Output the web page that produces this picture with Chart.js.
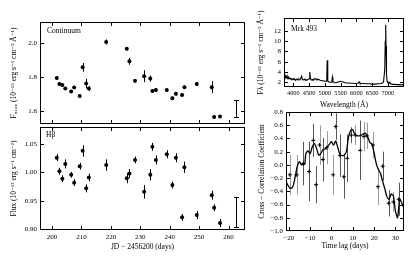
<!DOCTYPE html>
<html><head><meta charset="utf-8">
<script src="https://cdn.jsdelivr.net/npm/chart.js@4.4.1/dist/chart.umd.min.js"></script>
<style>
html,body{margin:0;padding:0;background:#fff;}
#wrap{position:relative;width:415px;height:262px;overflow:hidden;background:#fff;}
canvas{position:absolute;left:0;top:0;}
</style></head><body><div id="wrap">
<canvas id="c1" width="415" height="262"></canvas>
<canvas id="c2" width="415" height="262"></canvas>
<canvas id="c3" width="415" height="262"></canvas>
<canvas id="c4" width="415" height="262"></canvas>
</div>
<script>
// ---------- DATA ----------
const days = [201.6,202.5,203.5,204.5,206.5,207.5,209.4,210.4,211.6,212.5,218.4,225.4,226.3,228.2,231.3,233.4,234.1,235.3,239.0,240.9,242.1,244.2,245.0,249.2,254.3,255.1,257.1];
const contFlux = [1.796,1.760,1.754,1.735,1.717,1.740,1.690,1.858,1.763,1.734,2.006,1.967,1.893,1.779,1.806,1.792,1.719,1.725,1.725,1.677,1.703,1.697,1.742,1.760,1.742,1.568,1.571];
const contErr  = [0.010,0.012,0.010,0.010,0.008,0.008,0.008,0.025,0.028,0.015,0.015,0.010,0.020,0.010,0.035,0.018,0.010,0.010,0.008,0.010,0.010,0.008,0.010,0.012,0.035,0.008,0.008];
const hbFlux = [1.026,1.002,0.989,1.015,0.996,0.982,1.011,1.038,0.972,0.991,1.013,0.990,0.998,1.022,0.966,0.996,1.045,1.022,1.032,0.978,1.026,0.921,1.009,0.925,0.960,0.938,0.911];
const hbErr  = [0.006,0.006,0.006,0.008,0.005,0.006,0.006,0.010,0.007,0.007,0.010,0.009,0.008,0.006,0.012,0.010,0.007,0.008,0.007,0.006,0.008,0.006,0.010,0.007,0.008,0.006,0.007];
const contSys = {day:262.5, value:1.617, err:0.048};
const hbSys   = {day:262.5, value:0.930, err:0.026};
const dayTicks = [200,210,220,230,240,250,260];
const contTicks = [1.6,1.8,2.0];
const hbTicks = [0.90,0.95,1.00,1.05];

const specWave = [3710,3720,3730,3740,3750,3760,3770,3785,3800,3815,3830,3845,3860,3880,3900,3925,3950,3975,4000,4025,4050,4075,4100,4125,4150,4175,4200,4220,4240,4265,4280,4300,4330,4360,4380,4400,4420,4445,4470,4500,4515,4528,4545,4570,4600,4625,4650,4675,4700,4725,4750,4775,4800,4825,4850,4900,4950,5000,5040,5060,5075,5085,5100,5120,5160,5200,5225,5240,5255,5300,5350,5400,5450,5500,5550,5600,5650,5700,5750,5800,5850,5900,5950,6000,6050,6090,6110,6150,6200,6300,6400,6500,6600,6700,6800,6860,6900,6915,6930,6940,6955,6975,7000,7030,7060,7080,7150,7200,7300,7400,7500];
const specFlux = [3.6,3.3,3.5,3.1,3.4,3.0,3.2,2.9,3.1,2.8,3.0,2.7,2.9,2.7,2.8,2.6,2.7,2.5,2.7,2.5,2.6,2.4,2.6,2.5,2.7,2.5,2.5,2.6,2.6,3.2,2.6,2.5,2.5,2.6,2.4,2.5,2.4,2.5,2.5,2.7,3.2,4.0,2.7,2.5,2.4,2.6,2.5,2.7,2.6,2.7,2.5,2.6,2.6,2.5,2.4,2.3,2.3,2.2,2.2,2.6,6.3,4.0,2.3,2.1,2.0,2.0,2.3,3.0,2.2,1.9,1.9,2.0,2.1,2.2,2.1,2.0,1.9,1.85,1.85,1.8,1.8,1.8,1.75,1.75,1.8,2.1,1.8,1.75,1.75,1.7,1.7,1.65,1.65,1.7,1.75,2.0,4.5,10.0,13.2,9.0,3.5,2.2,1.9,1.8,2.0,1.7,1.6,1.6,1.55,1.5,1.55];
const waveTicks = [4000,4500,5000,5500,6000,6500,7000];
const specTicks = [2,4,6,8,10,12];

const ccfLag = [-21.3,-20,-19,-18,-17,-16,-15,-14,-13,-12.5,-12,-11,-10,-9,-8,-7,-6,-5,-4,-3,-2,-1,0,1,2,3,4,5,6,7,8,9,10,11,12,13,14,15,16,17,18,19,20,21,22,23,24,25,26,27,28,29,30,31,32,33,34];
const ccfVal = [-0.25,-0.33,-0.36,-0.32,-0.18,-0.02,0.05,0.00,0.02,0.01,0.17,0.21,0.17,0.27,0.32,0.25,0.15,0.17,0.23,0.24,0.27,0.31,0.35,0.30,0.36,0.26,0.16,0.14,0.15,0.20,0.42,0.52,0.53,0.46,0.44,0.44,0.45,0.47,0.48,0.42,0.34,0.31,0.18,0.02,-0.07,-0.13,-0.25,-0.36,-0.48,-0.52,-0.44,-0.47,-0.70,-0.80,-0.52,-0.58,-0.66];
const ccfPtLag = [-19.5,-16.3,-13.2,-10.5,-8.5,-7.2,-5.6,-4.0,-2.2,0.8,2.0,4.0,5.8,7.4,9.3,11.2,13.5,15.2,16.6,19.5,21.8,24.0,26.8,29.0,31.5];
const ccfPtVal = [-0.15,-0.15,0.02,-0.10,0.37,-0.30,0.30,0.08,0.26,-0.15,0.58,0.14,-0.18,0.10,0.45,0.45,0.22,0.43,0.44,0.30,-0.33,-0.02,-0.58,-0.56,-0.52];
const ccfPtErr = [0.30,0.30,0.33,0.45,0.25,0.28,0.30,0.33,0.25,0.30,0.20,0.32,0.33,0.36,0.12,0.15,0.45,0.22,0.20,0.20,0.28,0.22,0.20,0.15,0.25];
const lagTicks = [-20,-10,0,10,20,30];
const ccfTicks = [-1.0,-0.8,-0.6,-0.4,-0.2,0.0,0.2,0.4,0.6,0.8];

// ---------- STYLE / HELPERS ----------
const FONT = "'Liberation Serif','DejaVu Serif',serif";
const FS = 7.5;
const TFS = 7;
const minus = s => String(s).replace('-', '\u2212');
const pts = (xs, ys) => xs.map((x,i)=>({x, y:ys[i]}));

const framePlugin = {
  id: 'frame',
  beforeDatasetsDraw(chart, args, opts) {
    const ctx = chart.ctx, xs = chart.scales.x, ys = chart.scales.y;
    (opts.err || []).forEach(e => {
      ctx.save();
      e.x.forEach((xv, i) => {
        ctx.strokeStyle = Array.isArray(e.color) ? e.color[i % e.color.length] : e.color;
        ctx.lineWidth = e.width || 1;
        const px = Math.round(xs.getPixelForValue(xv)) + 0.5;
        const y1 = ys.getPixelForValue(e.y[i] - e.e[i]);
        const y2 = ys.getPixelForValue(e.y[i] + e.e[i]);
        ctx.beginPath(); ctx.moveTo(px, y1); ctx.lineTo(px, y2);
        if (e.cap) {
          ctx.moveTo(px - e.cap, Math.round(y1)+0.5); ctx.lineTo(px + e.cap, Math.round(y1)+0.5);
          ctx.moveTo(px - e.cap, Math.round(y2)+0.5); ctx.lineTo(px + e.cap, Math.round(y2)+0.5);
        }
        ctx.stroke();
      });
      ctx.restore();
    });
  },
  afterDraw(chart, args, opts) {
    const ctx = chart.ctx, a = chart.chartArea, xs = chart.scales.x, ys = chart.scales.y;
    ctx.save();
    ctx.strokeStyle = '#000'; ctx.lineWidth = 1;
    const L = 3.5;
    const l = Math.round(a.left)+0.5, r = Math.round(a.right)-0.5, t = Math.round(a.top)+0.5, b = Math.round(a.bottom)-0.5;
    ctx.beginPath();
    xs.ticks.forEach(tk => {
      const p = Math.round(xs.getPixelForValue(tk.value)) + 0.5;
      if (p < l || p > r) return;
      ctx.moveTo(p, b); ctx.lineTo(p, b - L);
      ctx.moveTo(p, t); ctx.lineTo(p, t + L);
    });
    ys.ticks.forEach(tk => {
      const p = Math.round(ys.getPixelForValue(tk.value)) + 0.5;
      if (p < t || p > b) return;
      ctx.moveTo(l, p); ctx.lineTo(l + L, p);
      ctx.moveTo(r, p); ctx.lineTo(r - L, p);
    });
    ctx.stroke();
    ctx.strokeRect(l, t, r - l, b - t);
    if (opts.label) {
      ctx.fillStyle = '#000';
      ctx.font = FS + 'px ' + FONT;
      ctx.textBaseline = 'middle';
      ctx.fillText(opts.label, a.left + opts.lx, a.top + opts.ly);
    }
    ctx.restore();
  }
};

function axis(opts) {
  return {
    type: 'linear', min: opts.min, max: opts.max, position: opts.position,
    grid: {display: false, drawTicks: false}, border: {display: false},
    ticks: {display: opts.labels !== false, padding: opts.pad || 3, color: '#000',
      font: {family: FONT, size: opts.tfs || TFS}, autoSkip: false, maxRotation: 0,
      callback: opts.fmt},
    afterBuildTicks: s => { s.ticks = opts.ticks.map(v => ({value: v})); },
    afterFit: s => { if (opts.position === 'bottom') s.height = opts.size; else s.width = opts.size; },
    title: {display: !!opts.title, text: opts.title, color: '#000',
      font: {family: FONT, size: FS, lineHeight: 1.2},
      padding: opts.tpad || {top: 0, bottom: 0}}
  };
}

function baseOpts(padding, scales, frame) {
  return {
    responsive: false, animation: false, devicePixelRatio: 1,
    layout: {padding},
    plugins: {legend: {display: false}, tooltip: {enabled: false}, frame},
    scales
  };
}

// ---------- PANEL 1: Continuum ----------
new Chart(document.getElementById('c1'), {
  type: 'scatter',
  data: {datasets: [{data: pts(days, contFlux), backgroundColor: '#000', borderColor: '#000', pointRadius: 2, pointBorderWidth: 0}]},
  options: baseOpts({left: 0, top: 22, right: 170, bottom: 138},
    {x: axis({min: 195.9, max: 265.6, position: 'bottom', ticks: dayTicks, labels: false, size: 0}),
     y: axis({min: 1.527, max: 2.1226, position: 'left', ticks: contTicks, size: 40, fmt: v => v.toFixed(1),
       title: 'F\u2085\u2081\u2080\u2080 (10\u207B\u00B9\u2075 erg s\u207B\u00B9 cm\u207B\u00B2 \u00C5\u207B\u00B9)', tpad: {top: 9.5, bottom: 0}})},
    {err: [{x: days, y: contFlux, e: contErr, color: '#000', width: 1},
           {x: [contSys.day], y: [contSys.value], e: [contSys.err], color: '#000', width: 1, cap: 2.5}],
     label: 'Continuum', lx: 7, ly: 9}),
  plugins: [framePlugin]
});

// ---------- PANEL 2: Hbeta ----------
new Chart(document.getElementById('c2'), {
  type: 'scatter',
  data: {datasets: [{data: pts(days, hbFlux), backgroundColor: '#000', borderColor: '#000', pointRadius: 2, pointBorderWidth: 0}]},
  options: baseOpts({left: 0, top: 127, right: 170, bottom: 8},
    {x: axis({min: 195.9, max: 265.6, position: 'bottom', ticks: dayTicks, size: 24, fmt: v => String(v),
       title: 'JD \u2212 2456200 (days)', tpad: {top: 0, bottom: 2.8}}),
     y: axis({min: 0.8988, max: 1.0799, position: 'left', ticks: hbTicks, size: 40, fmt: v => v.toFixed(2),
       title: 'Flux (10\u207B\u00B9\u00B3 erg s\u207B\u00B9 cm\u207B\u00B2)', tpad: {top: 9.5, bottom: 0}})},
    {err: [{x: days, y: hbFlux, e: hbErr, color: '#000', width: 1},
           {x: [hbSys.day], y: [hbSys.value], e: [hbSys.err], color: '#000', width: 1, cap: 2.5}],
     label: 'H\u03B2', lx: 6, ly: 8}),
  plugins: [framePlugin]
});

// ---------- PANEL 3: Spectrum ----------
new Chart(document.getElementById('c3'), {
  type: 'line',
  data: {datasets: [{data: pts(specWave, specFlux), borderColor: '#000', borderWidth: 1.1, pointRadius: 0, tension: 0, fill: false}]},
  options: baseOpts({left: 250, top: 18, right: 11, bottom: 151},
    {x: axis({min: 3705, max: 7510, position: 'bottom', ticks: waveTicks, size: 24, fmt: v => String(v), tfs: 6.3,
       title: 'Wavelength (\u00C5)', tpad: {top: 0, bottom: 1.5}}),
     y: axis({min: 1.08, max: 14.53, position: 'left', ticks: specTicks, size: 34, fmt: v => String(v),
       title: 'F\u03BB (10\u207B\u00B9\u2075 erg s\u207B\u00B9 cm\u207B\u00B2 \u00C5\u207B\u00B9)', tpad: {top: 6.5, bottom: 0}})},
    {label: 'Mrk 493', lx: 7, ly: 11}),
  plugins: [framePlugin]
});

// ---------- PANEL 4: CCF ----------
const ccfBarShade = ['#9a9a9a','#9a9a9a','#555','#555','#555','#555','#9a9a9a','#555','#9a9a9a','#9a9a9a','#555','#555','#555','#555','#555','#9a9a9a','#555','#9a9a9a','#9a9a9a','#9a9a9a','#9a9a9a','#555','#555','#9a9a9a','#555'];
new Chart(document.getElementById('c4'), {
  type: 'line',
  data: {datasets: [
    {data: pts(ccfLag, ccfVal), borderColor: '#000', borderWidth: 1.3, pointRadius: 0, tension: 0.25, fill: false},
    {data: pts(ccfPtLag, ccfPtVal), showLine: false, borderColor: '#000', pointStyle: 'cross', pointRadius: 2, pointBorderWidth: 1}
  ]},
  options: baseOpts({left: 250, top: 112, right: 11, bottom: 7},
    {x: axis({min: -21.3, max: 34, position: 'bottom', ticks: lagTicks, size: 24, fmt: v => minus(v),
       title: 'Time lag (days)', tpad: {top: 0, bottom: 4}}),
     y: axis({min: -1.0, max: 0.8, position: 'left', ticks: ccfTicks, size: 36, fmt: v => minus(v.toFixed(1)),
       title: 'Cross \u2212 Correlation Coefficient', tpad: {top: 8, bottom: 0}})},
    {err: [{x: ccfPtLag, y: ccfPtVal, e: ccfPtErr, color: ccfBarShade, width: 1}]}),
  plugins: [framePlugin]
});
</script>
</body></html>
